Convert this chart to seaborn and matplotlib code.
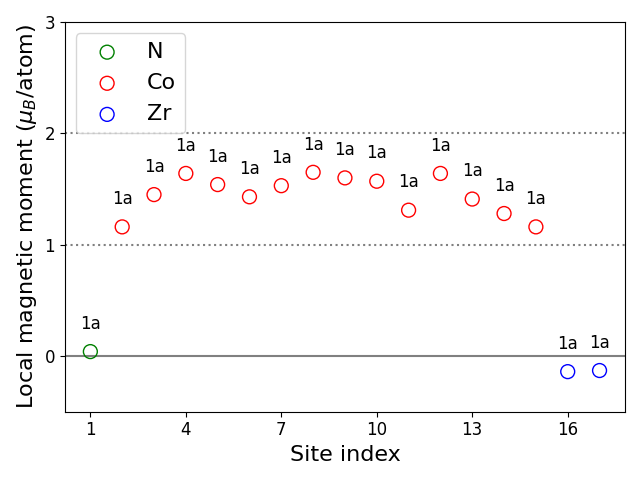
import pandas as pd
import matplotlib
matplotlib.use("Agg")
import matplotlib.pyplot as plt
import seaborn as sns

site_index = list(range(1, 18))
elements = ["N"] + ["Co"] * 14 + ["Zr"] * 2
moments = [0.04, 1.16, 1.45, 1.64, 1.54, 1.43, 1.53, 1.65, 1.60, 1.57,
           1.31, 1.64, 1.41, 1.28, 1.16, -0.14, -0.13]
wyckoff = ["1a"] * 17

df = pd.DataFrame({"site": site_index, "element": elements,
                   "moment": moments, "label": wyckoff})

fig, ax = plt.subplots(figsize=(6.4, 4.8), dpi=100)
ax.axhline(0, color="gray", lw=1.5, zorder=0)
for yv in [1, 2]:
    ax.axhline(yv, color="gray", ls=":", lw=1.5, zorder=0)

sns.scatterplot(data=df, x="site", y="moment", hue="element",
                palette={"N": "green", "Co": "red", "Zr": "blue"},
                facecolor="none", s=100, ax=ax, legend=False)
# open circles: set edge colours from hue
colors = {"N": "green", "Co": "red", "Zr": "blue"}
ax.collections[0].set_facecolor("none")
ax.collections[0].set_edgecolor([colors[e] for e in elements])
ax.collections[0].set_linewidth(1.0)

for x, y, t in zip(site_index, moments, wyckoff):
    ax.annotate(t, (x, y), xytext=(0, 20), textcoords="offset points",
                ha="center", va="center", fontsize=12)

for el in ["N", "Co", "Zr"]:
    ax.scatter([], [], facecolor="none", edgecolor=colors[el], s=100, label=el)
ax.legend(fontsize=16, loc="upper left")

ax.set_ylim(-0.5, 3)
ax.set_yticks([0, 1, 2, 3])
ax.set_xticks([1, 4, 7, 10, 13, 16])
ax.tick_params(labelsize=12)
ax.set_xlabel("Site index", fontsize=16)
ax.set_ylabel(r"Local magnetic moment ($\mu_B$/atom)", fontsize=16)

plt.tight_layout()
plt.savefig("out.png", dpi=100)
